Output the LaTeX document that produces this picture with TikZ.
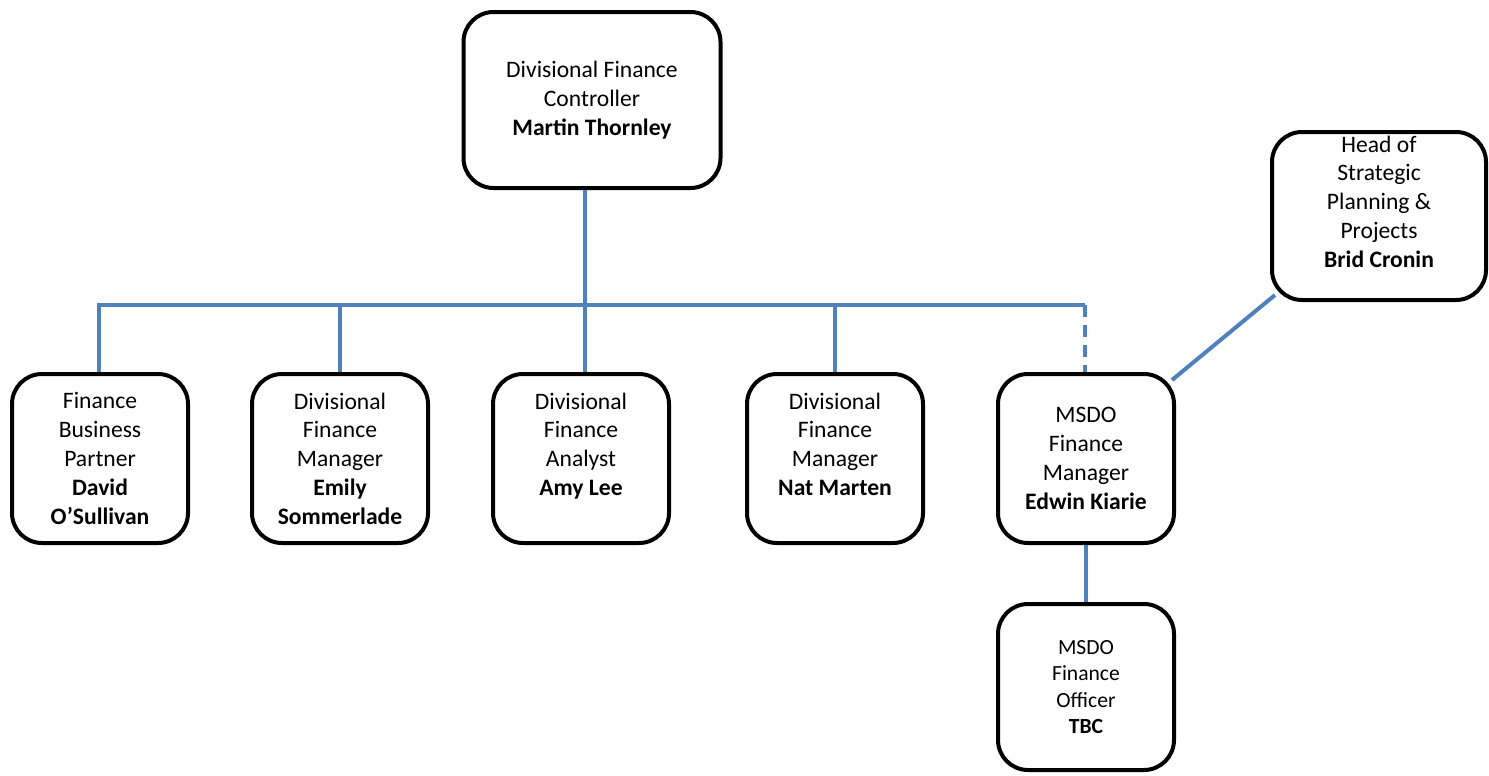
\documentclass[tikz,border=0pt]{standalone}
\usepackage{fontspec}
\setmainfont{Carlito}
\definecolor{linkblue}{RGB}{79,129,189}
\begin{document}
\begin{tikzpicture}%
	[x=0.5pt, y=-0.5pt,
	post/.style={draw, line width=2pt, rounded corners=15pt, align=center,
		inner sep=0pt, minimum width=88pt, minimum height=84.5pt,
		font=\fontsize{11.8}{14.4}\selectfont},
	link/.style={draw=linkblue, line width=2pt},
	vacant/.style={link, dash pattern=on 6pt off 4pt}]
%
\useasboundingbox (0,0) rectangle (1489,776);
%
%% Boxes of the chart
%%
\node[post, minimum width=128.5pt, minimum height=88pt] (controller) at (592,100)
	{Divisional Finance\\Controller\\\textbf{Martin Thornley}};
\node[post, minimum width=107pt, minimum height=84pt] (strategy) at (1379,216)
	{Head of\\Strategic\\Planning \&\\Projects\\\textbf{Brid Cronin}\\\mbox{}};
\node[post] (partner) at (100,458.5)
	{Finance\\Business\\Partner\\\textbf{David}\\\textbf{O’Sullivan}};
\node[post] (managerA) at (340,458.5)
	{Divisional\\Finance\\Manager\\\textbf{Emily}\\\textbf{Sommerlade}};
\node[post] (analyst) at (581,458.5)
	{Divisional\\Finance\\Analyst\\\textbf{Amy Lee}\\\mbox{}};
\node[post] (managerB) at (835,458.5)
	{Divisional\\Finance\\Manager\\\textbf{Nat Marten}\\\mbox{}};
\node[post] (msdo) at (1086,458.5)
	{MSDO\\Finance\\Manager\\\textbf{Edwin Kiarie}};
\node[post, minimum height=83pt, font=\fontsize{10.8}{13.2}\selectfont] (officer) at (1086,687)
	{MSDO\\Finance\\Officer\\\textbf{TBC}};
%%
%% Bus line
%%
\coordinate (busL) at (99,305);
\coordinate (busM) at (585,305);
\coordinate (busR) at (1085,305);
%%
%% Connectors
%%
\draw[link] (controller.south -| busM) -- (analyst.north -| busM);
\draw[link] (partner.north -| busL) -- (busL) -- (busR);
\draw[link] (managerA.north) -- (managerA.north |- busL);
\draw[link] (managerB.north) -- (managerB.north |- busL);
\draw[vacant] (busR) -- (msdo.north -| busR);
\draw[link] (msdo.south) -- (officer.north);
\draw[link] ([shift={(-4,8)}]msdo.north east) -- ([shift={(5,-7)}]strategy.south west);
%%
\end{tikzpicture}
\end{document}
